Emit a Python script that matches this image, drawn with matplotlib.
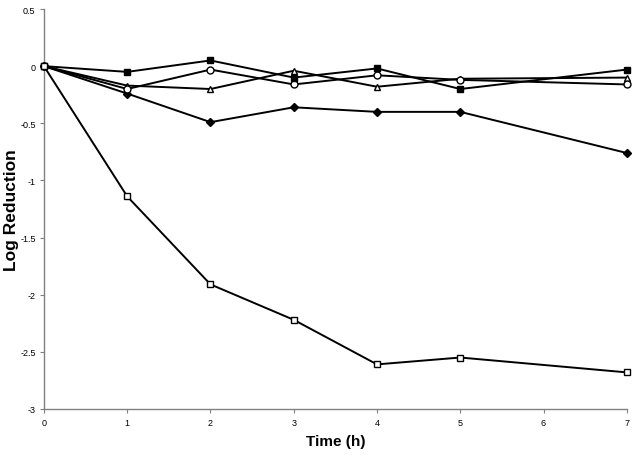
import matplotlib
matplotlib.use("Agg")
import matplotlib.pyplot as plt

plt.rcParams['font.family'] = ['Liberation Sans', 'DejaVu Sans']

time_h = [0, 1, 2, 3, 4, 5, 7]
filled_square = [0, -0.05, 0.05, -0.10, -0.02, -0.20, -0.03]
open_circle = [0, -0.20, -0.03, -0.16, -0.08, -0.12, -0.16]
open_triangle = [0, -0.17, -0.20, -0.04, -0.18, -0.11, -0.10]
filled_diamond = [0, -0.24, -0.49, -0.36, -0.40, -0.40, -0.76]
open_square = [0, -1.14, -1.91, -2.22, -2.61, -2.55, -2.68]

x_ticks = [0, 1, 2, 3, 4, 5, 6, 7]
y_ticks = [0.5, 0, -0.5, -1, -1.5, -2, -2.5, -3]
y_ticklabels = ['0.5', '0', '-0.5', '-1', '-1.5', '-2', '-2.5', '-3']

fig = plt.figure(figsize=(6.37, 4.56), dpi=100)
ax = fig.add_axes([0.069, 0.101, 0.915, 0.877])

lw = 1.4
ax.plot(time_h, filled_diamond, color='black', lw=lw, marker='D', ms=4, mfc='black', mec='black', zorder=3)
ax.plot(time_h, open_triangle, color='black', lw=lw, marker='^', ms=5, mfc='white', mec='black', mew=1, zorder=3)
ax.plot(time_h, open_circle, color='black', lw=lw, marker='o', ms=5, mfc='white', mec='black', mew=1, zorder=3)
ax.plot(time_h, filled_square, color='black', lw=lw, marker='s', ms=4.5, mfc='black', mec='black', zorder=3)
ax.plot(time_h, open_square, color='black', lw=lw, marker='s', ms=5, mfc='white', mec='black', mew=1, zorder=4)

ax.set_xlim(0, 7)
ax.set_ylim(-3, 0.5)
ax.set_xticks(x_ticks)
ax.set_yticks(y_ticks)
ax.set_yticklabels(y_ticklabels)

for s in ['top', 'right']:
    ax.spines[s].set_visible(False)
for s in ['left', 'bottom']:
    ax.spines[s].set_color('#808080')
    ax.spines[s].set_linewidth(1.0)
ax.tick_params(axis='both', colors='#808080', labelcolor='black', labelsize=6.5, length=3, width=0.8, direction='out')
ax.tick_params(axis='x', pad=3.5)
ax.tick_params(axis='y', pad=3)

ax.set_xlabel('Time (h)', fontsize=11, fontweight='bold')
ax.set_ylabel('Log Reduction', fontsize=12.5, fontweight='bold')
ax.xaxis.set_label_coords(0.5, -0.062)
ax.yaxis.set_label_coords(-0.043, 0.5)
ax.patch.set_alpha(0)
for m in ax.lines:
    m.set_clip_on(False)

fig.savefig('out.png', dpi=100)
